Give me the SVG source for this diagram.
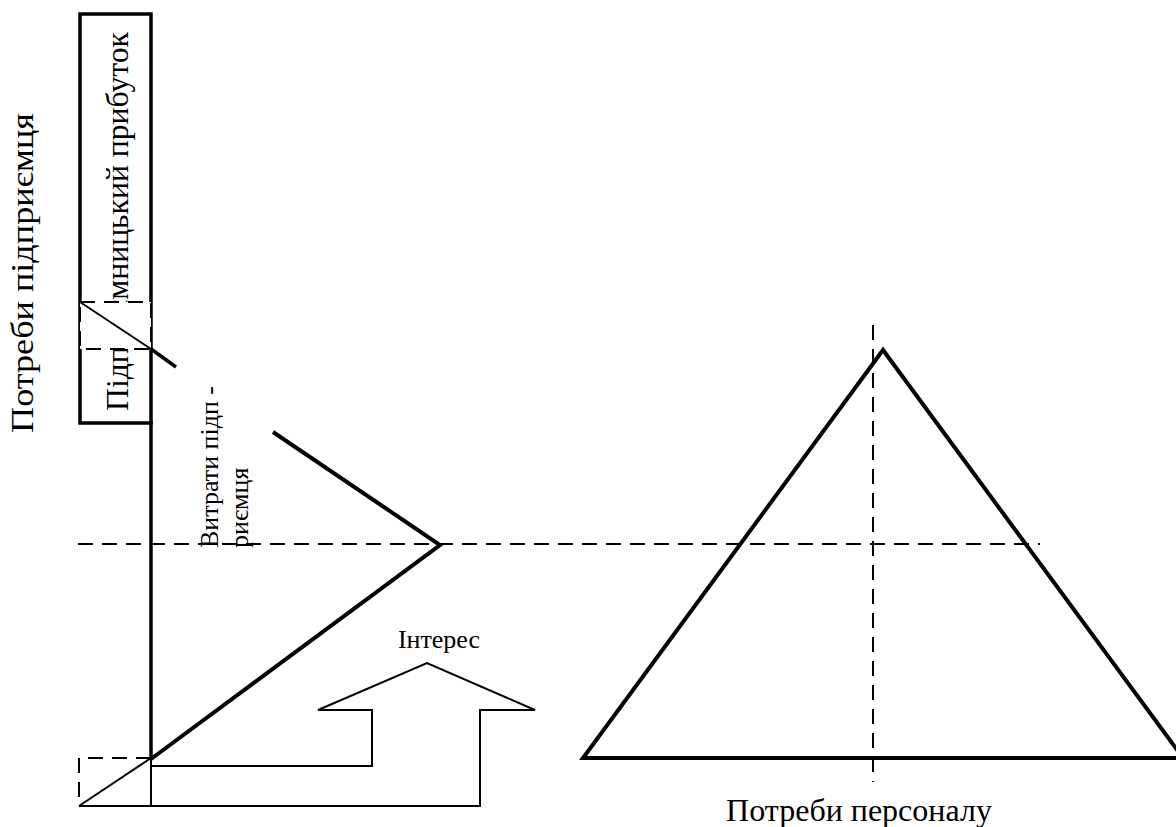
<svg xmlns="http://www.w3.org/2000/svg" width="1176" height="827" viewBox="0 0 1176 827">
  <style>
    .thick { fill: none; stroke: #000; stroke-width: 4; stroke-linejoin: miter; }
    .thin { fill: none; stroke: #000; stroke-width: 2; }
    .dash { fill: none; stroke: #000; stroke-width: 2; stroke-dasharray: 15 9; }
  </style>

  <rect width="1176" height="827" fill="#fff"/>

  <!-- guide lines -->
  <g id="guides">
    <line class="dash" x1="78" y1="544" x2="1040" y2="544"/>
    <line class="dash" x1="873" y1="325" x2="873" y2="782"/>
  </g>

  <!-- enterprise profit column -->
  <g id="profit-column">
    <rect class="thick" x="80" y="14" width="71" height="409" style="stroke-width:3.5"/>
    <text font-family="Liberation Serif" font-size="32" transform="translate(128,411) rotate(-90)" textLength="379" lengthAdjust="spacingAndGlyphs">Підприємницький прибуток</text>
    <rect x="80" y="302" width="71" height="47" fill="#fff" stroke="#000" stroke-width="2" stroke-dasharray="15 9"/>
    <line class="thin" x1="80" y1="302" x2="151" y2="349"/>
    <line class="thick" x1="151" y1="349" x2="176" y2="367" style="stroke-width:3.5"/>
  </g>

  <!-- vertical axis -->
  <g id="axis">
    <line class="thick" x1="151" y1="421" x2="151" y2="760" style="stroke-width:3.5"/>
  </g>

  <!-- enterprise costs -->
  <g id="costs">
    <polyline class="thick" points="273,432 440,545 151,759"/>
    <text font-family="Liberation Serif" font-size="26" transform="translate(218,548) rotate(-90)">Витрати підп -</text>
    <text font-family="Liberation Serif" font-size="26" transform="translate(248,548) rotate(-90)">риємця</text>
  </g>

  <!-- interest arrow -->
  <g id="interest">
    <polyline class="thin" points="151,766 372,766 372,710 318,710 427,663 535,710 480,710 480,806 79,806"/>
    <text font-family="Liberation Serif" font-size="26" x="439" y="648" text-anchor="middle">Інтерес</text>
  </g>

  <!-- corner -->
  <g id="corner">
    <polyline class="dash" points="151,758 79,758 79,806"/>
    <line class="thin" x1="79" y1="806" x2="151" y2="758"/>
    <line class="thin" x1="151" y1="758" x2="151" y2="806"/>
  </g>

  <!-- staff needs pyramid -->
  <g id="staff-needs">
    <polygon class="thick" points="883,350 583,758 1183,758"/>
    <text font-family="Liberation Serif" font-size="32" x="859" y="821" text-anchor="middle">Потреби персоналу</text>
  </g>

  <!-- enterprise needs label -->
  <g id="enterprise-needs">
    <text font-family="Liberation Serif" font-size="32" transform="translate(33,433) rotate(-90)" textLength="320" lengthAdjust="spacingAndGlyphs">Потреби підприємця</text>
  </g>
</svg>
